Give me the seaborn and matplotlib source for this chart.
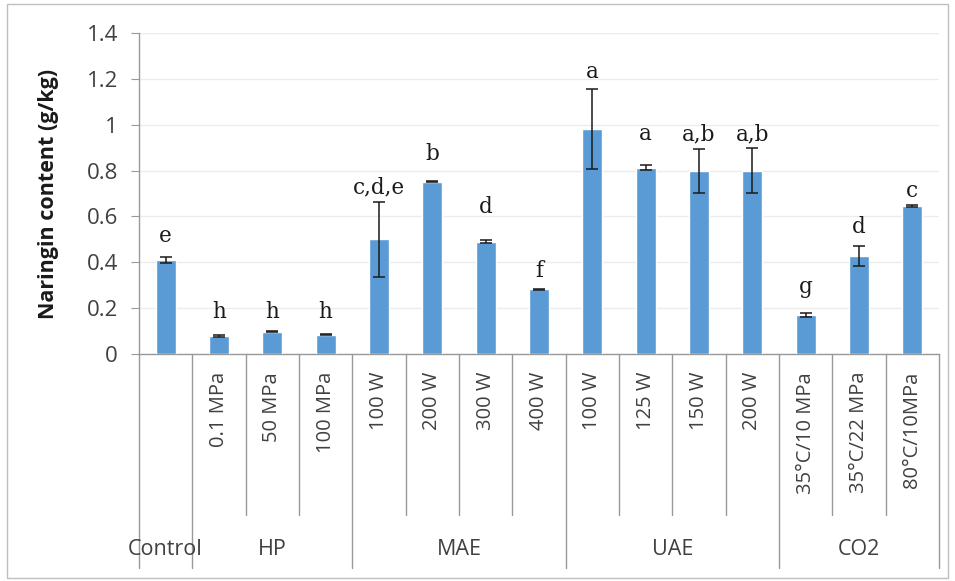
import matplotlib
matplotlib.use('Agg')
import matplotlib.pyplot as plt
from matplotlib.patches import Rectangle
import seaborn as sns
import pandas as pd

# data
groups = ['Control', 'HP', 'HP', 'HP', 'MAE', 'MAE', 'MAE', 'MAE',
          'UAE', 'UAE', 'UAE', 'UAE', 'CO2', 'CO2', 'CO2']
sub_labels = ['', '0.1 MPa', '50 MPa', '100 MPa', '100 W', '200 W', '300 W', '400 W',
              '100 W', '125 W', '150 W', '200 W', '35°C/10 MPa', '35°C/22 MPa', '80°C/10MPa']
values = [0.41, 0.078, 0.097, 0.085, 0.50, 0.752, 0.49, 0.282,
          0.98, 0.813, 0.798, 0.80, 0.17, 0.427, 0.645]
errors = [0.015, 0.003, 0.003, 0.003, 0.163, 0.003, 0.006, 0.003,
          0.175, 0.010, 0.097, 0.098, 0.010, 0.045, 0.003]
letters = ['e', 'h', 'h', 'h', 'c,d,e', 'b', 'd', 'f', 'a', 'a', 'a,b', 'a,b', 'g', 'd', 'c']
letter_y = [0.488, 0.157, 0.157, 0.157, 0.702, 0.846, 0.615, 0.336,
            1.204, 0.933, 0.933, 0.933, 0.266, 0.528, 0.685]

df = pd.DataFrame({
    'key': [f'{g}|{s}' for g, s in zip(groups, sub_labels)],
    'value': values,
})

sns.set_style('white')
plt.rcParams['font.family'] = ['Open Sans', 'DejaVu Sans']

fig = plt.figure(figsize=(9.55, 5.81), dpi=100)
ax = fig.add_axes([0.1455, 0.3907, 0.8377, 0.5525])

sns.barplot(data=df, x='key', y='value', color='#5B9BD5', width=0.375,
            saturation=1, ax=ax, zorder=3)

xs = [p.get_x() + p.get_width() / 2 for p in ax.patches]
ax.errorbar(xs, values, yerr=errors, fmt='none', ecolor='#1a1a1a',
            elinewidth=1.1, capsize=4.5, capthick=1.1, zorder=4)

for x, ly, t in zip(xs, letter_y, letters):
    ax.text(x, ly, t, ha='center', va='baseline', fontsize=15.5,
            family='DejaVu Serif', color='#1a1a1a')

n = len(values)
ax.set_xlim(-0.5, n - 0.5)
ax.set_ylim(0, 1.4)
ax.set_yticks([0, 0.2, 0.4, 0.6, 0.8, 1, 1.2, 1.4])
ax.set_yticklabels(['0', '0.2', '0.4', '0.6', '0.8', '1', '1.2', '1.4'])
ax.yaxis.grid(True, color='#ececec', linewidth=1, zorder=0)
ax.tick_params(axis='y', length=6, color='#999999', labelsize=16,
               labelcolor='#404040', pad=9, left=True)
ax.set_xticks([])
ax.set_xlabel('')
ax.set_ylabel('Naringin content (g/kg)', fontsize=15.5, fontweight='bold',
              color='#1a1a1a', labelpad=20)

for side in ['top', 'right']:
    ax.spines[side].set_visible(False)
for side in ['left', 'bottom']:
    ax.spines[side].set_color('#999999')
    ax.spines[side].set_linewidth(1)

# multi-level category axis
tr = ax.get_xaxis_transform()
for i, s in enumerate(sub_labels):
    if s:
        ax.text(i, -0.056, s, rotation=90, ha='center', va='top', fontsize=14.5,
                color='#404040', transform=tr, clip_on=False)

bounds = [-0.5]
for i in range(1, n):
    if groups[i] != groups[i - 1]:
        bounds.append(i - 0.5)
bounds.append(n - 0.5)

for i in range(n + 1):
    b = i - 0.5
    low = -0.667 if b in bounds else -0.50
    ax.plot([b, b], [0, low], color='#999999', linewidth=1,
            transform=tr, clip_on=False)

for a, b in zip(bounds[:-1], bounds[1:]):
    ax.text((a + b) / 2, -0.61, groups[int(a + 0.5)], ha='center', va='center',
            fontsize=15.5, color='#404040', transform=tr, clip_on=False)

# outer chart border
fig.patches.append(Rectangle((7 / 955, 3 / 581), 941 / 955, 574 / 581,
                             transform=fig.transFigure, fill=False,
                             edgecolor='#bfbfbf', linewidth=1))

fig.savefig('out.png', dpi=100)
